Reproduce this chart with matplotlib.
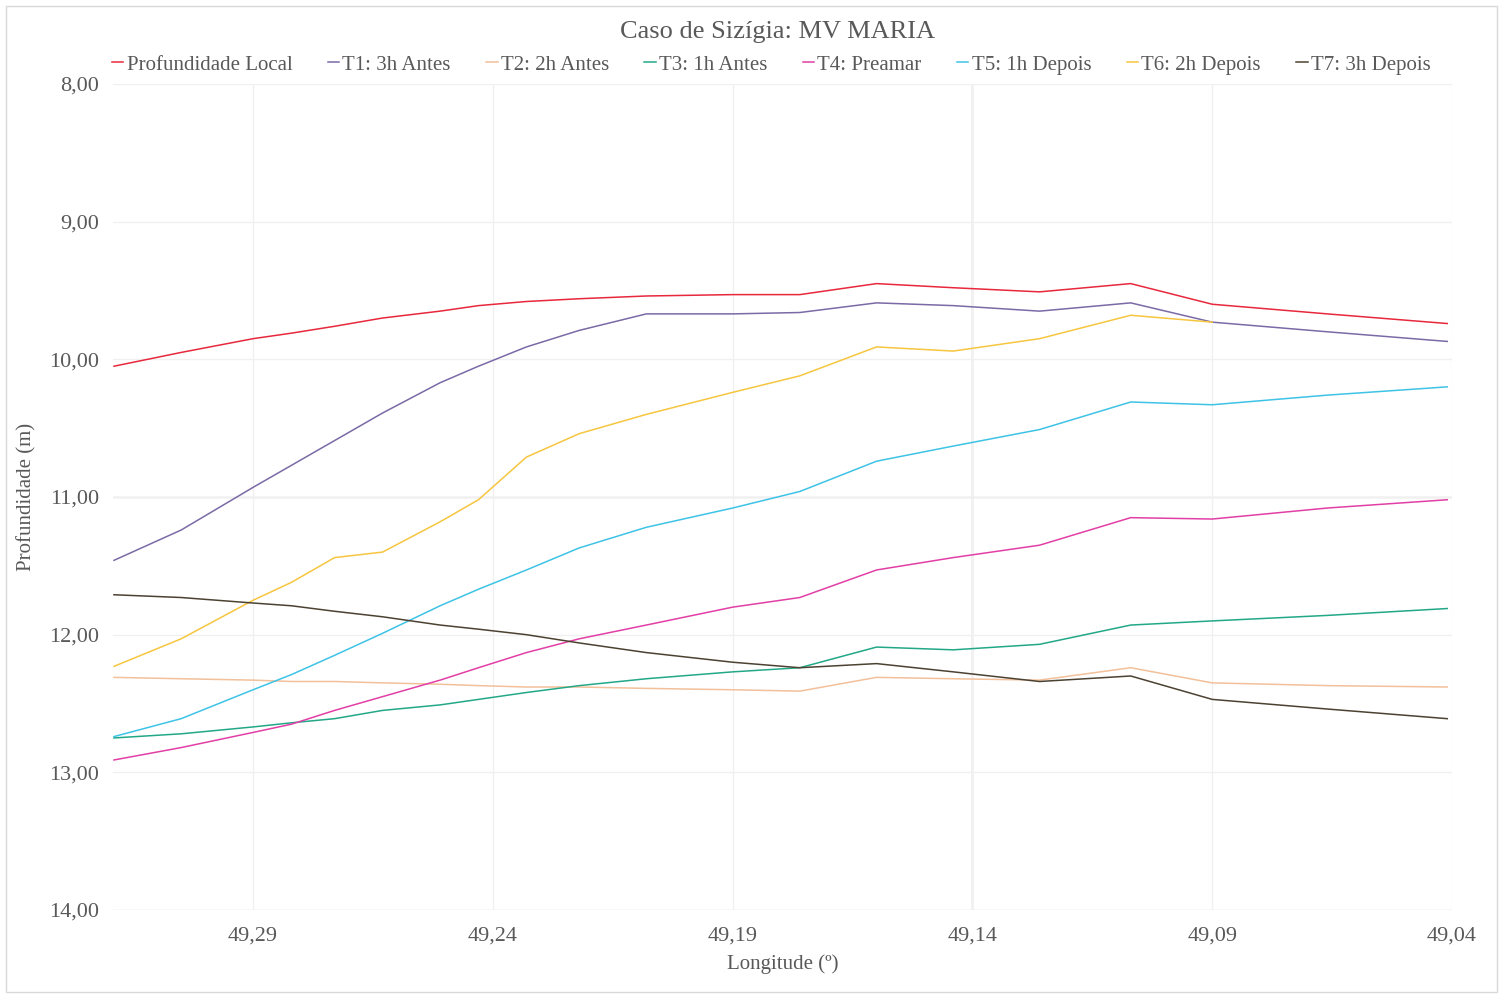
import numpy as np
import matplotlib
matplotlib.use("Agg")
import matplotlib.pyplot as plt
from matplotlib.ticker import FixedLocator, FuncFormatter
from matplotlib.patches import Rectangle

lon = [49.319, 49.305, 49.290, 49.282, 49.273, 49.263, 49.251, 49.243, 49.233, 49.222,
       49.208, 49.190, 49.176, 49.160, 49.144, 49.126, 49.107, 49.090, 49.066, 49.041]

prof_local = [10.05, 9.95, 9.85, 9.81, 9.76, 9.70, 9.65, 9.61, 9.58, 9.56,
              9.54, 9.53, 9.53, 9.45, 9.48, 9.51, 9.45, 9.60, 9.67, 9.74]
t1 = [11.46, 11.24, 10.93, 10.77, 10.59, 10.39, 10.17, 10.05, 9.91, 9.79,
      9.67, 9.67, 9.66, 9.59, 9.61, 9.65, 9.59, 9.73, 9.80, 9.87]
t2 = [12.31, 12.32, 12.33, 12.34, 12.34, 12.35, 12.36, 12.37, 12.38, 12.38,
      12.39, 12.40, 12.41, 12.31, 12.32, 12.33, 12.24, 12.35, 12.37, 12.38]
t3 = [12.75, 12.72, 12.67, 12.64, 12.61, 12.55, 12.51, 12.47, 12.42, 12.37,
      12.32, 12.27, 12.24, 12.09, 12.11, 12.07, 11.93, 11.90, 11.86, 11.81]
t4 = [12.91, 12.82, 12.71, 12.65, 12.55, 12.45, 12.33, 12.24, 12.13, 12.03,
      11.93, 11.80, 11.73, 11.53, 11.44, 11.35, 11.15, 11.16, 11.08, 11.02]
t5 = [12.74, 12.61, 12.40, 12.29, 12.15, 11.99, 11.79, 11.67, 11.53, 11.37,
      11.22, 11.08, 10.96, 10.74, 10.63, 10.51, 10.31, 10.33, 10.26, 10.20]
t6 = [12.23, 12.03, 11.75, 11.62, 11.44, 11.40, 11.18, 11.02, 10.71, 10.54,
      10.40, 10.24, 10.12, 9.91, 9.94, 9.85, 9.68, 9.73, np.nan, np.nan]
t7 = [11.71, 11.73, 11.77, 11.79, 11.83, 11.87, 11.93, 11.96, 12.00, 12.06,
      12.13, 12.20, 12.24, 12.21, 12.27, 12.34, 12.30, 12.47, 12.54, 12.61]

labels = ["Profundidade Local", "T1: 3h Antes", "T2: 2h Antes", "T3: 1h Antes",
          "T4: Preamar", "T5: 1h Depois", "T6: 2h Depois", "T7: 3h Depois"]
series = [prof_local, t1, t2, t3, t4, t5, t6, t7]
colors = ["#E8283C", "#7A6AA6", "#F2C09A", "#23A887", "#E23FA6", "#3EC3E6", "#F6C640", "#4B4232"]

x_ticks = [49.29, 49.24, 49.19, 49.14, 49.09, 49.04]
y_ticks = [8, 9, 10, 11, 12, 13, 14]

plt.rcParams['font.family'] = ['Liberation Serif', 'DejaVu Serif']
txt = "#595959"

fig = plt.figure(figsize=(15.03, 9.96), dpi=100)
ax = fig.add_axes([0.0752, 0.0863, 0.8909, 0.8294])

for s, lab, c in zip(series, labels, colors):
    ax.plot(lon, s, color=c, lw=1.1, label=lab)

ax.set_xlim(49.3192, 49.04)
ax.set_ylim(14, 8)
ax.xaxis.set_major_locator(FixedLocator(x_ticks))
ax.yaxis.set_major_locator(FixedLocator(y_ticks))
ax.xaxis.set_major_formatter(FuncFormatter(lambda v, p: f"{v:.2f}".replace(".", ",")))
ax.yaxis.set_major_formatter(FuncFormatter(lambda v, p: f"{v:.2f}".replace(".", ",")))
ax.tick_params(length=0, labelsize=16, colors=txt, pad=10)
ax.tick_params(axis='x', pad=12)
for sp in ax.spines.values():
    sp.set_visible(False)
ax.grid(True, color="#F0F0F0", lw=1)
ax.set_axisbelow(True)
ax.axhline(11, color="#CFCFCF", lw=1, zorder=0.5)
ax.axvline(49.14, color="#C4C4C4", lw=1, zorder=0.5)
ax.axhline(14, color="#E3E3E3", lw=1, zorder=0.5)

ax.set_xlabel("Longitude (º)", fontsize=15, color=txt, labelpad=6)
ax.set_ylabel("Profundidade (m)", fontsize=15, color=txt, labelpad=9)

fig.text(0.5175, 0.968, "Caso de Sizígia: MV MARIA", ha="center", va="center",
         fontsize=19, color=txt)

leg = fig.legend(loc="center left", bbox_to_anchor=(0.069, 0.935), ncol=8, frameon=False,
                 fontsize=15, handlelength=0.55, handletextpad=0.15, columnspacing=1.7,
                 borderaxespad=0)
for t in leg.get_texts():
    t.set_color(txt)

fig.patches.append(Rectangle((0.004, 0.004), 0.992, 0.99, transform=fig.transFigure,
                             fill=False, edgecolor="#D9D9D9", lw=1))

fig.savefig("out.png", dpi=100)
